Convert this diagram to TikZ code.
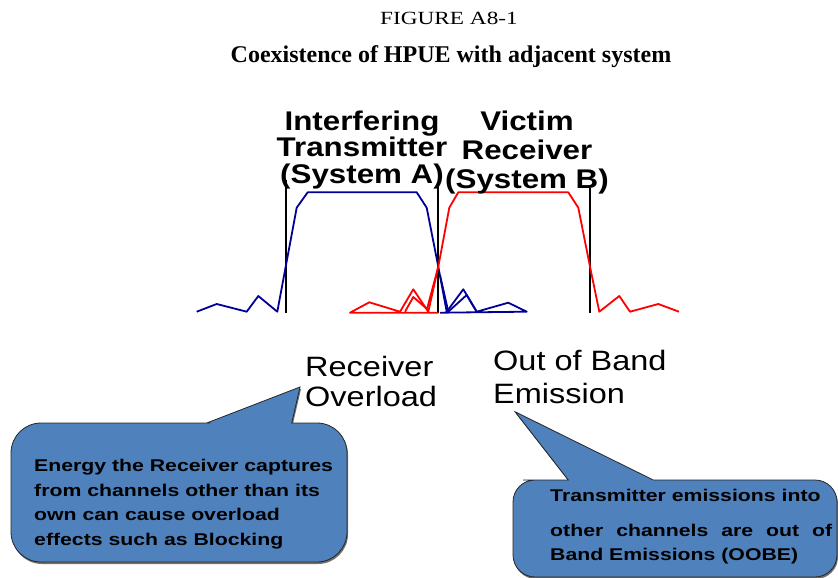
\documentclass[tikz,border=0pt]{standalone}
\usepackage{fontspec}
\setmainfont{Liberation Serif}
\newfontfamily\arialfont[FakeStretch=1.16]{Liberation Sans}
\newfontfamily\calloutfont[FakeStretch=1.25]{Liberation Sans}
\newfontfamily\figfont[FakeStretch=1.25]{Liberation Serif}
\usepackage{xcolor}
\usetikzlibrary{shadows}

\definecolor{txblue}{RGB}{0,0,153}
\definecolor{calloutblue}{RGB}{79,129,189}

\tikzset{
  spectrum/.style={line width=1.8pt, line join=round},
  chanedge/.style={black, line width=1.4pt},
  sysname/.style={font=\arialfont\bfseries\fontsize{27}{#1}\selectfont, align=center, inner sep=0pt},
  effect/.style={font=\arialfont\fontsize{28}{#1}\selectfont, align=left, inner sep=0pt},
  callout/.style={fill=calloutblue, draw=black!85, line width=0.8pt,
    drop shadow={shadow xshift=1pt, shadow yshift=-2pt, fill=black!70, opacity=0.8}},
  callouttext/.style={font=\calloutfont\bfseries\fontsize{17}{#1}\selectfont, inner sep=0pt},
}

\begin{document}
\begin{tikzpicture}[x=1pt,y=-1pt]
\useasboundingbox (0,0) rectangle (838,578);

% Heading
\node[font=\figfont\fontsize{18.6}{20}\selectfont, anchor=base] (fig) at (449,25) {FIGURE A8-1};
\node[font=\bfseries\fontsize{24}{28}\selectfont, anchor=base] (title) at (451,63) {Coexistence of HPUE with adjacent system};

% Channel edges
\foreach \x/\top in {286/180, 438/185, 590/188} {
    \draw[chanedge] (\x,\top) -- (\x,313);
}

% Interfering transmitter spectrum (System A)
\draw[spectrum,txblue] (196.7,311.7) -- (216.7,304) -- (246.7,311.7) -- (258.3,296) -- (277.3,311.7)
    -- (296.7,207.7) -- (307.7,192.3) -- (416.7,192.3) -- (426.7,207.7) -- (438.3,266.7)
    -- (446.7,311.7) -- (463.3,289.3) -- (476.7,311.7) -- (508.3,302.7) -- (526.7,311.7) -- (440,312.7);
\draw[spectrum,txblue] (440,275) -- (448.3,311.7) -- (466.7,295) -- (476.7,311.7);

% Victim receiver spectrum (System B)
\draw[spectrum,red] (438.3,312.7) -- (350,312.7) -- (369.3,302.3) -- (400,311.7) -- (413.3,289.3)
    -- (428.3,311.7) -- (438.3,266.7) -- (449.3,207.7) -- (458.3,192.3) -- (568.3,192.3)
    -- (578.3,207.7) -- (590,266.7) -- (599.3,311.7) -- (619.3,296) -- (630,311.7)
    -- (658.3,304) -- (679,311.7);
\draw[spectrum,red] (405,311.7) -- (413.3,297) -- (427,309) -- (438.3,266.7);

% System names
\node[sysname=26.5, anchor=base] (sysA) at (362,183) {Interfering\\Transmitter\\(System A)};
\node[sysname=29, anchor=base] (sysB) at (527,188) {Victim\\Receiver\\(System B)};

% Effects
\node[effect=30, anchor=base west] (overload) at (305,406.7) {Receiver\\Overload};
\node[effect=33, anchor=base west] (oobelabel) at (493,403.3) {Out of Band\\Emission};

% Callouts
\draw[callout] (11,492) [rounded corners=30] -- (11,423) -- (180,423) [sharp corners] -- (206.7,423)
    -- (300,387) -- (291.7,423) -- (320,423) [rounded corners=30] -- (347,423) -- (347,562) -- (11,562) -- cycle;
\node[callouttext=24.4, anchor=base west, align=left] (blocking) at (34,545)
    {Energy the Receiver captures\\from channels other than its\\own can cause overload\\effects such as Blocking};

\draw[callout] (513,530) [rounded corners=22] -- (513,480) -- (545,480) [sharp corners] -- (568.3,480)
    -- (515,411.7) -- (653.3,480) -- (680,480) [rounded corners=22] -- (837,480) -- (837,577) -- (513,577) -- cycle;
\node[callouttext=23.5, anchor=base west, text width=282pt, align=justify] (oobe) at (550,501.7)
    {Transmitter emissions into\\[11.5pt]other channels are out of Band Emissions (OOBE)};
\end{tikzpicture}
\end{document}
